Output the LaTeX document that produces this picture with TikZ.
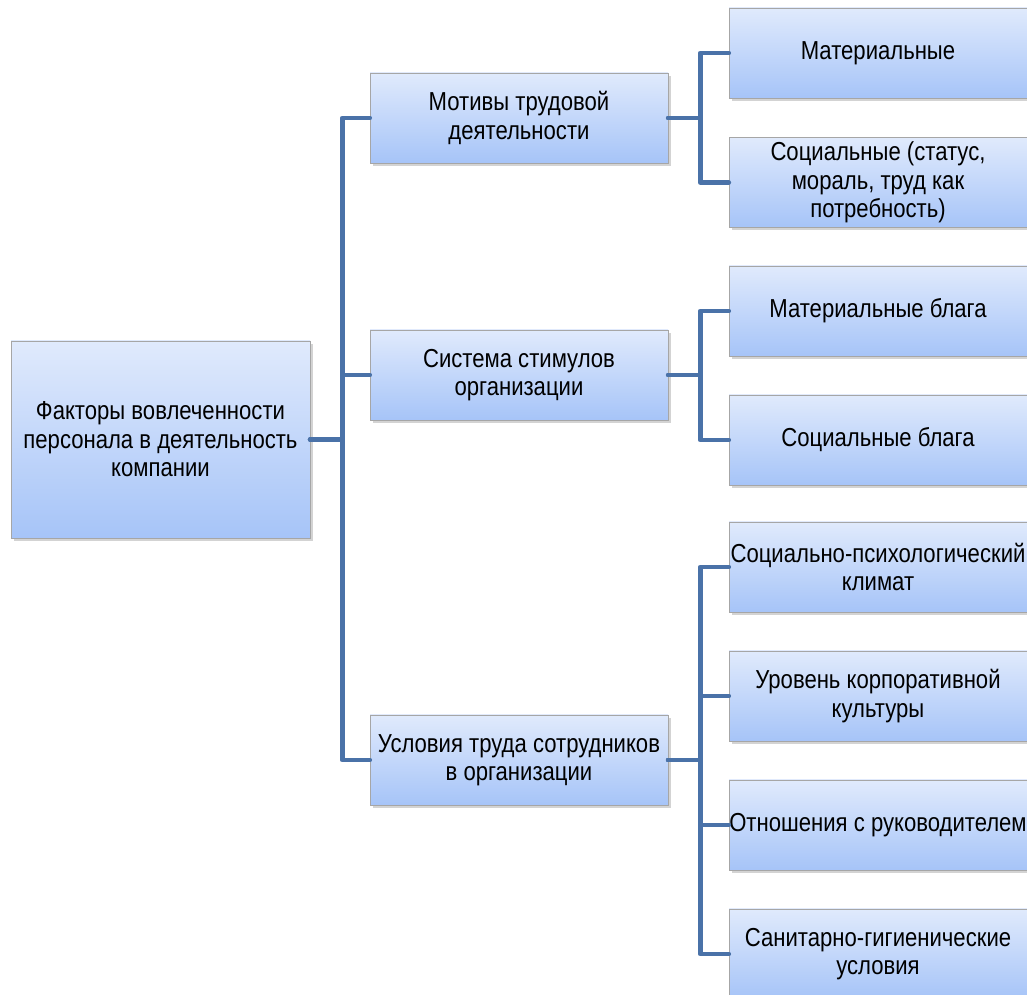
\documentclass[tikz,border=0pt]{standalone}
\usepackage{fontspec}
\setmainfont[FakeStretch=0.85]{Liberation Sans}
\usepackage{tikz}
\usetikzlibrary{shadows}

\definecolor{linkblue}{HTML}{4A72A8}
\definecolor{boxtop}{HTML}{E0EAFC}
\definecolor{boxbot}{HTML}{A6C4F8}

\tikzset{
    factor/.style={draw=gray!70, thin, top color=boxtop, bottom color=boxbot,
        drop shadow={shadow xshift=0.06cm, shadow yshift=-0.06cm, opacity=0.35},
        minimum width=5.96cm, minimum height=1.8cm, align=center,
        font=\fontsize{14.8}{16.2}\selectfont, inner xsep=0pt, inner ysep=1pt},
    link/.style={draw=linkblue, line width=2.8pt, line join=round, line cap=round}
}

\begin{document}
\begin{tikzpicture}
    \useasboundingbox (0,0) rectangle (20.54,-19.9);
    \begin{scope}
    \clip (0,0) rectangle (20.54,-19.9);

    % root
    \node[factor, minimum width=5.98cm, minimum height=3.94cm] (root) at (3.21,-8.79)
        {Факторы вовлеченности\\персонала в деятельность\\компании};

    % second level
    \node[factor] (motiv) at (10.38,-2.36) {Мотивы трудовой\\деятельности};
    \node[factor] (stim) at (10.38,-7.5) {Система стимулов\\организации};
    \node[factor] (cond) at (10.38,-15.2) {Условия труда сотрудников\\в организации};

    % third level
    \node[factor] (mat) at (17.56,-1.06) {Материальные};
    \node[factor] (soc) at (17.56,-3.65) {Социальные (статус,\\мораль, труд как\\потребность)};
    \node[factor] (goods) at (17.56,-6.22) {Материальные блага};
    \node[factor] (socgoods) at (17.56,-8.8) {Социальные блага};
    \node[factor] (climate) at (17.56,-11.34) {Социально-психологический\\климат};
    \node[factor] (culture) at (17.56,-13.92) {Уровень корпоративной\\культуры};
    \node[factor] (boss) at (17.56,-16.5) {Отношения с руководителем};
    \node[factor] (hyg) at (17.56,-19.08) {Санитарно-гигиенические\\условия};

    % connectors
    \foreach \n in {motiv, stim, cond}
        \draw[link] (root.east) -- ++(0.64,0) |- (\n.west);
    \foreach \n in {mat, soc}
        \draw[link] (motiv.east) -- ++(0.64,0) |- (\n.west);
    \foreach \n in {goods, socgoods}
        \draw[link] (stim.east) -- ++(0.64,0) |- (\n.west);
    \foreach \n in {climate, culture, boss, hyg}
        \draw[link] (cond.east) -- ++(0.64,0) |- (\n.west);
    \end{scope}
\end{tikzpicture}
\end{document}
